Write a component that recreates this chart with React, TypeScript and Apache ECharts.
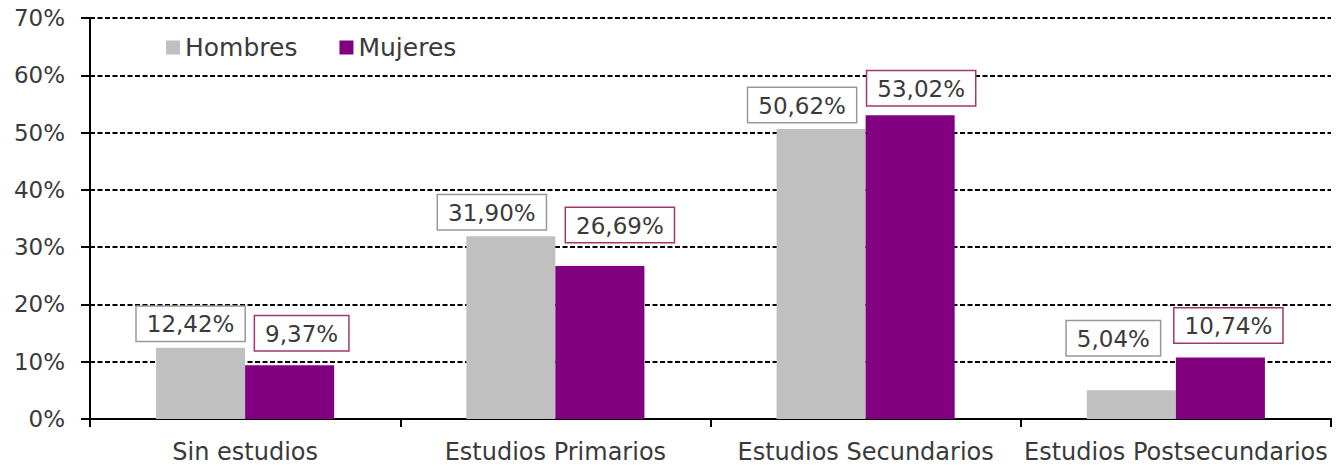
import React, { useEffect, useRef } from "react";
import * as echarts from "echarts";

const categories = ["Sin estudios", "Estudios Primarios", "Estudios Secundarios", "Estudios Postsecundarios"];
const hombres = [12.42, 31.9, 50.62, 5.04];
const mujeres = [9.37, 26.69, 53.02, 10.74];
const yTicks = { min: 0, max: 70, interval: 10 };

// label placement (offsets from bar top), kept apart from data
const hombresLabelOffsets = [[-10, -7], [-19, -7], [-19, -7], [-18, -35]];
const mujeresLabelOffsets = [[12, -15], [20, -24], [11, -10], [8, -15]];

const FONT = "DejaVu Sans";
const TEXT = "#3a3a3a";

const fmt = (v: number) => v.toFixed(2).replace(".", ",") + "%";

export default function App() {
  const ref = useRef<HTMLDivElement>(null);
  useEffect(() => {
    if (!ref.current) return;
    const chart = echarts.init(ref.current, null, { renderer: "svg" });
    const labelBase = {
      show: true,
      position: "top",
      distance: 0,
      fontFamily: FONT,
      fontSize: 23,
      color: TEXT,
      backgroundColor: "#fff",
      borderWidth: 1.5,
      padding: [5, 10, 4, 10],
      lineHeight: 25,
      formatter: (p: any) => fmt(p.value),
    };
    chart.setOption({
      animation: false,
      textStyle: { fontFamily: FONT },
      grid: { left: 90, right: 9, top: 18, bottom: 48, containLabel: false },
      legend: {
        left: 161,
        top: 30,
        icon: "rect",
        itemWidth: 14,
        itemHeight: 14,
        itemGap: 42,
        textStyle: { fontFamily: FONT, fontSize: 25, color: TEXT },
        data: ["Hombres", "Mujeres"],
      },
      xAxis: {
        type: "category",
        data: categories,
        axisLine: { lineStyle: { color: "#000", width: 2 } },
        axisTick: { show: true, interval: 0, length: 8, lineStyle: { color: "#000", width: 2 } },
        axisLabel: { interval: 0, fontFamily: FONT, fontSize: 24, color: TEXT, margin: 21 },
      },
      yAxis: {
        type: "value",
        min: yTicks.min,
        max: yTicks.max,
        interval: yTicks.interval,
        axisLine: { show: true, lineStyle: { color: "#000", width: 2 } },
        axisTick: { show: true, length: 9, lineStyle: { color: "#000", width: 2 } },
        axisLabel: { fontFamily: FONT, fontSize: 23, color: TEXT, margin: 25, formatter: "{value}%" },
        splitLine: { show: true, lineStyle: { color: "#000", width: 1.8, type: [5, 2.5] } },
      },
      series: [
        {
          name: "Hombres",
          type: "bar",
          barGap: "0%",
          barCategoryGap: "42.6%",
          itemStyle: { color: "#C0C0C0" },
          data: hombres.map((v, i) => ({
            value: v,
            label: { ...labelBase, borderColor: "#999999", offset: hombresLabelOffsets[i] },
          })),
        },
        {
          name: "Mujeres",
          type: "bar",
          barGap: "0%",
          barCategoryGap: "42.6%",
          itemStyle: { color: "#800080" },
          data: mujeres.map((v, i) => ({
            value: v,
            label: { ...labelBase, borderColor: "#A0386E", offset: mujeresLabelOffsets[i] },
          })),
        },
      ],
    });
    return () => chart.dispose();
  }, []);
  return <div ref={ref} style={{ width: 1340, height: 467, position: "absolute", left: 0, top: 0 }} />;
}
